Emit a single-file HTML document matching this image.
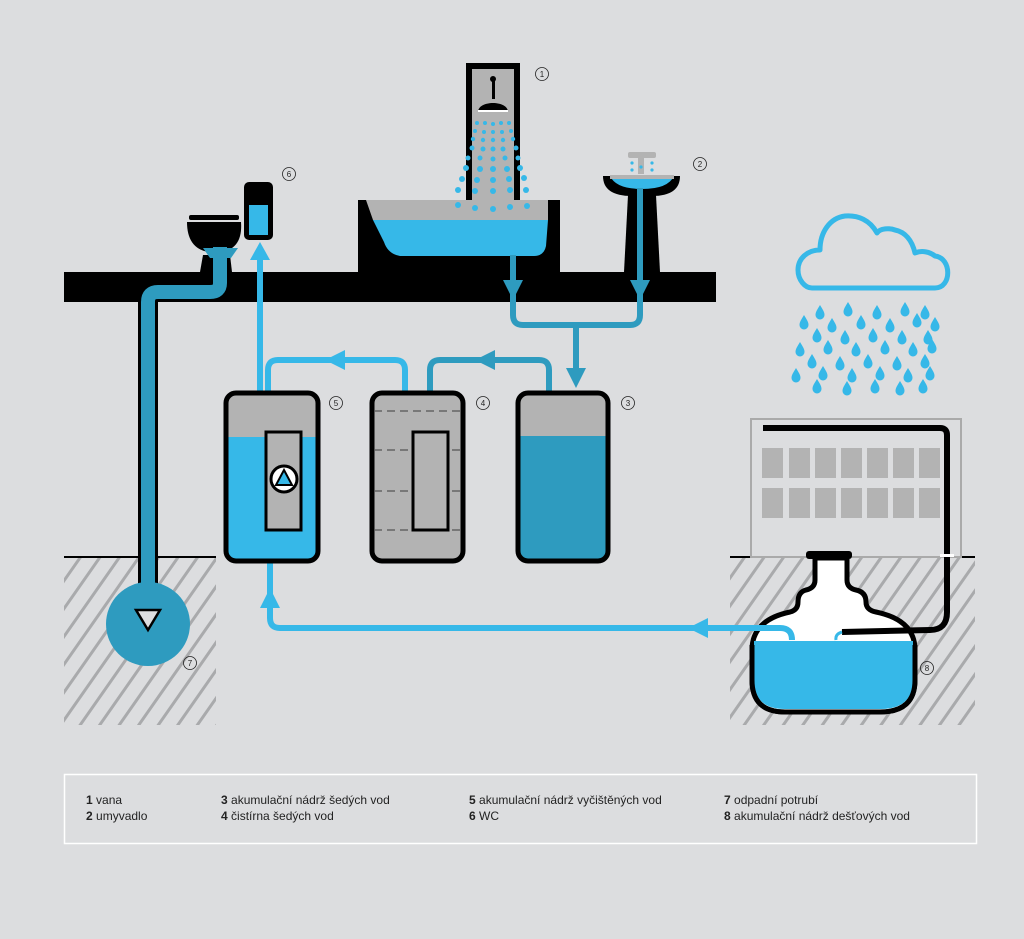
<!DOCTYPE html>
<html><head><meta charset="utf-8"><style>
html,body{margin:0;padding:0;background:#dcdddf;}
svg{display:block}
.lg{font-family:"Liberation Sans",sans-serif;font-size:12px;fill:#222;}
.n{font-family:"Liberation Sans",sans-serif;font-size:8px;fill:#222;text-anchor:middle}
</style></head><body>
<svg width="1024" height="939" viewBox="0 0 1024 939" xmlns="http://www.w3.org/2000/svg">
<defs>
<pattern id="h" width="16" height="16" patternUnits="userSpaceOnUse" patternTransform="rotate(35)">
<rect width="16" height="16" fill="#dcdddf"/><rect x="0" y="0" width="3" height="16" fill="#a9aaac"/>
</pattern>
<path id="d" d="M0,-8 C3,-3 4.5,-1 4.5,2 A4.5,4.5 0 0 1 -4.5,2 C-4.5,-1 -3,-3 0,-8Z" fill="#36b8e8"/>
<g id="c"><circle r="6.5" fill="none" stroke="#222" stroke-width="0.8"/></g>
</defs>
<rect width="1024" height="939" fill="#dcdddf"/>

<rect x="64" y="557" width="152" height="168" fill="url(#h)"/>
<rect x="730" y="557" width="245" height="168" fill="url(#h)"/>
<line x1="64" y1="557" x2="216" y2="557" stroke="#000" stroke-width="2"/>
<line x1="730" y1="557" x2="975" y2="557" stroke="#000" stroke-width="2"/>

<rect x="751" y="419" width="210" height="138" fill="none" stroke="#aaa" stroke-width="2"/>
<g fill="#b3b3b3">
<rect x="762" y="448" width="21" height="30"/><rect x="789" y="448" width="21" height="30"/><rect x="815" y="448" width="21" height="30"/><rect x="841" y="448" width="21" height="30"/><rect x="867" y="448" width="21" height="30"/><rect x="893" y="448" width="21" height="30"/><rect x="919" y="448" width="21" height="30"/>
<rect x="762" y="488" width="21" height="30"/><rect x="789" y="488" width="21" height="30"/><rect x="815" y="488" width="21" height="30"/><rect x="841" y="488" width="21" height="30"/><rect x="867" y="488" width="21" height="30"/><rect x="893" y="488" width="21" height="30"/><rect x="919" y="488" width="21" height="30"/>
</g>

<path d="M812,288 L935,288 C952,288 952,258 935,256 C930,252 922,250 915,253 C912,240 905,232 895,230 C890,228 880,228 877,233 C870,220 858,215 845,216 C830,218 820,232 820,250 C808,250 798,258 798,270 C798,280 805,288 812,288Z" fill="none" stroke="#36b8e8" stroke-width="5" stroke-linejoin="round"/>
<g>
<use href="#d" x="820" y="313"/><use href="#d" x="848" y="310"/><use href="#d" x="877" y="313"/><use href="#d" x="905" y="310"/><use href="#d" x="925" y="313"/>
<use href="#d" x="804" y="323"/><use href="#d" x="832" y="326"/><use href="#d" x="861" y="323"/><use href="#d" x="890" y="326"/><use href="#d" x="917" y="321"/><use href="#d" x="935" y="325"/>
<use href="#d" x="817" y="336"/><use href="#d" x="845" y="338"/><use href="#d" x="873" y="336"/><use href="#d" x="902" y="338"/><use href="#d" x="928" y="338"/>
<use href="#d" x="800" y="350"/><use href="#d" x="828" y="348"/><use href="#d" x="856" y="350"/><use href="#d" x="885" y="348"/><use href="#d" x="913" y="350"/><use href="#d" x="932" y="347"/>
<use href="#d" x="812" y="362"/><use href="#d" x="840" y="364"/><use href="#d" x="868" y="362"/><use href="#d" x="897" y="364"/><use href="#d" x="925" y="362"/>
<use href="#d" x="796" y="376"/><use href="#d" x="823" y="374"/><use href="#d" x="852" y="376"/><use href="#d" x="880" y="374"/><use href="#d" x="908" y="376"/><use href="#d" x="930" y="374"/>
<use href="#d" x="817" y="387"/><use href="#d" x="847" y="389"/><use href="#d" x="875" y="387"/><use href="#d" x="900" y="389"/><use href="#d" x="923" y="387"/>
</g>

<rect x="64" y="272" width="652" height="30" fill="#000"/>
<rect x="358" y="200" width="202" height="72" fill="#000"/>

<rect x="466" y="63" width="54" height="140" fill="#000"/>
<rect x="472" y="69" width="42" height="134" fill="#b3b3b3"/>
<circle cx="493" cy="79" r="3" fill="#000"/>
<rect x="492" y="79" width="3" height="20" fill="#000"/>
<path d="M478,112 C478,100 508,100 508,112Z" fill="#000"/>
<rect x="478" y="110" width="30" height="2" fill="#fff"/>
<g fill="#36b8e8">
<circle cx="477" cy="123" r="2"/><circle cx="485" cy="123" r="2"/><circle cx="493" cy="124" r="2"/><circle cx="501" cy="123" r="2"/><circle cx="509" cy="123" r="2"/>
<circle cx="475" cy="131" r="2"/><circle cx="484" cy="132" r="2"/><circle cx="493" cy="132" r="2"/><circle cx="502" cy="132" r="2"/><circle cx="511" cy="131" r="2"/>
<circle cx="473" cy="139" r="2.2"/><circle cx="483" cy="140" r="2.2"/><circle cx="493" cy="140" r="2.2"/><circle cx="503" cy="140" r="2.2"/><circle cx="513" cy="139" r="2.2"/>
<circle cx="472" cy="148" r="2.5"/><circle cx="483" cy="149" r="2.5"/><circle cx="493" cy="149" r="2.5"/><circle cx="503" cy="149" r="2.5"/><circle cx="516" cy="148" r="2.5"/>
<circle cx="468" cy="158" r="2.5"/><circle cx="480" cy="158" r="2.5"/><circle cx="493" cy="159" r="2.5"/><circle cx="505" cy="158" r="2.5"/><circle cx="518" cy="158" r="2.5"/>
<circle cx="466" cy="168" r="3"/><circle cx="480" cy="169" r="3"/><circle cx="493" cy="169" r="3"/><circle cx="507" cy="169" r="3"/><circle cx="520" cy="168" r="3"/>
<circle cx="462" cy="179" r="3"/><circle cx="477" cy="180" r="3"/><circle cx="493" cy="180" r="3"/><circle cx="509" cy="179" r="3"/><circle cx="524" cy="178" r="3"/>
<circle cx="458" cy="190" r="3"/><circle cx="475" cy="191" r="3"/><circle cx="493" cy="191" r="3"/><circle cx="510" cy="190" r="3"/><circle cx="526" cy="190" r="3"/>
</g>
<path d="M366,200 L548,200 L548,220 L373,220 Z" fill="#b3b3b3"/>
<path d="M373,220 L548,220 L546,246 Q544,256 534,256 L400,256 Q388,254 384,242 Z" fill="#36b8e8"/>
<g fill="#36b8e8">
<circle cx="458" cy="205" r="3"/><circle cx="475" cy="208" r="3"/><circle cx="493" cy="209" r="3"/><circle cx="510" cy="207" r="3"/><circle cx="527" cy="206" r="3"/>
</g>

<path d="M603,176 L680,176 Q680,196 652,196 L632,196 Q603,196 603,176Z" fill="#000"/>
<path d="M610,176 L674,176 Q668,189 642,189 Q616,189 610,176Z" fill="#36b8e8"/>
<rect x="610" y="175" width="64" height="4" fill="#b3b3b3"/>
<path d="M628,195 L656,195 L660,272 L624,272Z" fill="#000"/>
<rect x="628" y="152" width="28" height="6" rx="2" fill="#b3b3b3"/>
<rect x="638" y="158" width="6" height="16" fill="#b3b3b3"/>
<g fill="#36b8e8"><circle cx="632" cy="163" r="1.6"/><circle cx="632" cy="170" r="1.6"/><circle cx="652" cy="163" r="1.6"/><circle cx="652" cy="170" r="1.6"/><circle cx="641" cy="167" r="1.6"/></g>

<g fill="none" stroke="#2e9bbf" stroke-width="6">
<path d="M513,255 L513,315 Q513,325 523,325 L630,325 Q640,325 640,315 L640,188"/>
<path d="M576,325 L576,375"/>
<path d="M549,391 L549,370 Q549,360 539,360 L440,360 Q430,360 430,370 L430,391"/>
</g>
<g fill="#2e9bbf">
<polygon points="503,280 523,280 513,300"/>
<polygon points="630,280 650,280 640,300"/>
<polygon points="566,368 586,368 576,388"/>
<polygon points="495,350 495,370 475,360"/>
</g>

<g fill="none" stroke="#36b8e8" stroke-width="6">
<path d="M405,391 L405,370 Q405,360 395,360 L278,360 Q268,360 268,370 L268,391"/>
<path d="M260,391 L260,258"/>
<path d="M270,562 L270,618 Q270,628 280,628 L780,628 Q792,628 792,640"/>
</g>
<g fill="#36b8e8">
<polygon points="345,350 345,370 325,360"/>
<polygon points="250,260 270,260 260,242"/>
<polygon points="260,608 280,608 270,588"/>
<polygon points="708,618 708,638 688,628"/>
</g>

<path d="M187,222 L241,222 Q243,248 222,252 L208,252 Q187,248 187,222Z" fill="#000"/>
<rect x="189" y="215" width="50" height="5" rx="2" fill="#000"/>
<path d="M200,272 L232,272 L230,255 L203,255Z" fill="#000"/>
<rect x="244" y="182" width="29" height="58" rx="5" fill="#000"/>
<rect x="249" y="205" width="19" height="30" fill="#36b8e8"/>
<path d="M220,247 L220,283 Q220,292 210,292 L158,292 Q148,292 148,302 L148,612" fill="none" stroke="#000" stroke-width="20"/>
<circle cx="148" cy="624" r="42" fill="#2e9bbf"/>
<path d="M220,247 L220,283 Q220,292 210,292 L158,292 Q148,292 148,302 L148,610" fill="none" stroke="#2e9bbf" stroke-width="14"/>
<path d="M203,248 L238,248 L231,258 L210,258Z" fill="#2e9bbf"/>
<polygon points="136,610 160,610 148,630" fill="#dcdddf" stroke="#000" stroke-width="2.5"/>

<rect x="226" y="393" width="92" height="168" rx="10" fill="#36b8e8"/>
<path d="M236,393 L308,393 Q318,393 318,403 L318,437 L226,437 L226,403 Q226,393 236,393Z" fill="#b3b3b3"/>
<rect x="226" y="393" width="92" height="168" rx="10" fill="none" stroke="#000" stroke-width="5"/>
<rect x="266" y="432" width="35" height="98" fill="#b3b3b3" stroke="#000" stroke-width="3"/>
<circle cx="284" cy="479" r="13" fill="#fff" stroke="#000" stroke-width="3"/>
<polygon points="284,470 292,485 276,485" fill="#36b8e8" stroke="#000" stroke-width="2"/>

<rect x="372" y="393" width="91" height="168" rx="10" fill="#b3b3b3" stroke="#000" stroke-width="5"/>
<g stroke="#555" stroke-width="1.2" stroke-dasharray="8,5">
<line x1="374" y1="411" x2="461" y2="411"/><line x1="374" y1="450" x2="461" y2="450"/><line x1="374" y1="491" x2="461" y2="491"/><line x1="374" y1="530" x2="461" y2="530"/>
</g>
<rect x="413" y="432" width="35" height="98" fill="#b3b3b3" stroke="#000" stroke-width="3"/>

<rect x="518" y="393" width="90" height="168" rx="10" fill="#2e9bbf"/>
<path d="M528,393 L598,393 Q608,393 608,403 L608,436 L518,436 L518,403 Q518,393 528,393Z" fill="#b3b3b3"/>
<rect x="518" y="393" width="90" height="168" rx="10" fill="none" stroke="#000" stroke-width="5"/>

<!-- tank 8 -->
<path d="M815,558 L815,580 Q815,588 806,590 Q798,592 798,602 Q798,610 790,612 Q752,620 752,650 L752,680 Q752,712 785,712 L880,712 Q915,712 915,680 L915,650 Q915,620 876,612 Q866,610 866,602 Q866,592 856,590 Q847,588 847,580 L847,558Z" fill="#fff" stroke="#000" stroke-width="5" stroke-linejoin="round"/>
<path d="M754,641 L913,641 L913,680 Q913,709 880,709 L785,709 Q754,709 754,680Z" fill="#36b8e8"/>
<path d="M752,645 L752,680 Q752,712 785,712 L880,712 Q915,712 915,680 L915,645" fill="none" stroke="#000" stroke-width="5"/>
<rect x="806" y="551" width="46" height="8" rx="3" fill="#000"/>
<path d="M720,628 L780,628 Q792,628 792,640" fill="none" stroke="#36b8e8" stroke-width="6"/>
<path d="M763,428 L940,428 Q947,428 947,435 L947,612 Q947,630 930,630 L842,632" fill="none" stroke="#000" stroke-width="6"/>
<path d="M842,632 Q835,634 836,640" fill="none" stroke="#36b8e8" stroke-width="3"/>
<rect x="940" y="554" width="14" height="3" fill="#fff"/>

<use href="#c" x="542" y="74"/><text class="n" x="542" y="77">1</text>
<use href="#c" x="700" y="164"/><text class="n" x="700" y="167">2</text>
<use href="#c" x="628" y="403"/><text class="n" x="628" y="406">3</text>
<use href="#c" x="483" y="403"/><text class="n" x="483" y="406">4</text>
<use href="#c" x="336" y="403"/><text class="n" x="336" y="406">5</text>
<use href="#c" x="289" y="174"/><text class="n" x="289" y="177">6</text>
<use href="#c" x="190" y="663"/><text class="n" x="190" y="666">7</text>
<use href="#c" x="927" y="668"/><text class="n" x="927" y="671">8</text>

<rect x="64.5" y="774.5" width="912" height="69" fill="none" stroke="#fff" stroke-width="1.5"/>
<g class="lg">
<text x="86" y="804"><tspan font-weight="bold">1</tspan> vana</text>
<text x="86" y="820"><tspan font-weight="bold">2</tspan> umyvadlo</text>
<text x="221" y="804"><tspan font-weight="bold">3</tspan> akumulační nádrž šedých vod</text>
<text x="221" y="820"><tspan font-weight="bold">4</tspan> čistírna šedých vod</text>
<text x="469" y="804"><tspan font-weight="bold">5</tspan> akumulační nádrž vyčištěných vod</text>
<text x="469" y="820"><tspan font-weight="bold">6</tspan> WC</text>
<text x="724" y="804"><tspan font-weight="bold">7</tspan> odpadní potrubí</text>
<text x="724" y="820"><tspan font-weight="bold">8</tspan> akumulační nádrž dešťových vod</text>
</g>
</svg>
</body></html>
